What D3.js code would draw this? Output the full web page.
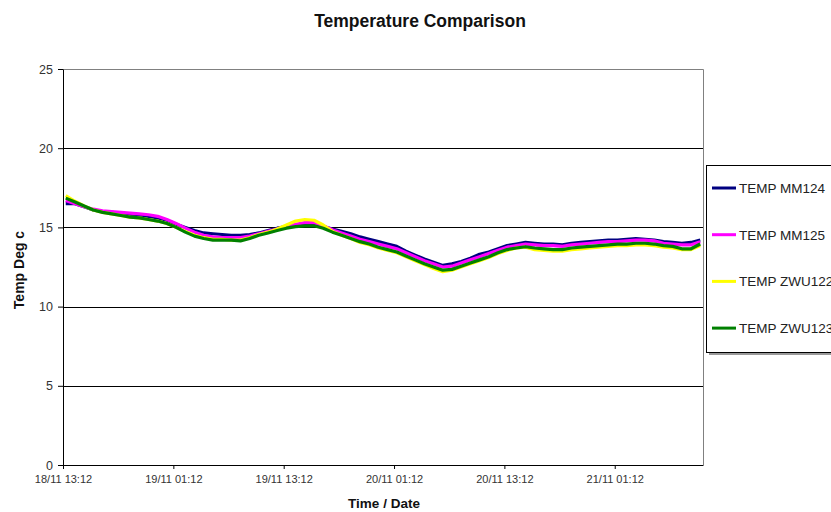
<!DOCTYPE html>
<html>
<head>
<meta charset="utf-8">
<script src="https://cdn.jsdelivr.net/npm/d3@7"></script>
<style>
  body { margin: 0; background: #fff; }
  svg { display: block; font-family: "Liberation Sans", Arial, sans-serif; }
</style>
</head>
<body>
<svg id="chart" width="831" height="512"></svg>
<script>
// readings, one per hour starting 18/11 ~13:30
let seriesNames = ["TEMP MM124", "TEMP MM125", "TEMP ZWU122", "TEMP ZWU123"]
let seriesColors = ["#000080", "#ff00ff", "#ffff00", "#008000"]

let mm124 = [16.5, 16.5, 16.3, 16.1, 16.0, 15.95, 15.9, 15.8, 15.75, 15.7,
    15.6, 15.45, 15.2, 15.0, 14.8, 14.65, 14.6, 14.55, 14.5, 14.5,
    14.55, 14.65, 14.8, 14.95, 15.05, 15.15, 15.2, 15.25, 15.05, 14.9,
    14.75, 14.6, 14.4, 14.25, 14.1, 13.95, 13.8, 13.5, 13.25, 13.0,
    12.8, 12.6, 12.7, 12.85, 13.05, 13.3, 13.45, 13.65, 13.85, 13.95,
    14.05, 14.0, 13.95, 13.95, 13.9, 14.0, 14.05, 14.1, 14.15, 14.2,
    14.2, 14.25, 14.3, 14.25, 14.2, 14.1, 14.05, 14.0, 14.05, 14.2]

let mm125 = [16.7, 16.5, 16.3, 16.15, 16.05, 16.0, 15.95, 15.9, 15.85, 15.8,
    15.7, 15.5, 15.25, 14.95, 14.7, 14.5, 14.4, 14.35, 14.35, 14.35,
    14.45, 14.6, 14.75, 14.9, 15.05, 15.2, 15.3, 15.3, 15.1, 14.85,
    14.65, 14.45, 14.25, 14.1, 13.95, 13.8, 13.65, 13.4, 13.15, 12.9,
    12.7, 12.5, 12.55, 12.75, 12.95, 13.15, 13.35, 13.55, 13.75, 13.85,
    13.95, 13.9, 13.85, 13.85, 13.8, 13.9, 13.95, 14.0, 14.05, 14.1,
    14.1, 14.15, 14.2, 14.2, 14.15, 14.0, 13.95, 13.9, 13.9, 14.1]

let zwu122 = [17.0, 16.65, 16.35, 16.1, 15.95, 15.85, 15.75, 15.65, 15.6, 15.5,
    15.4, 15.25, 15.0, 14.75, 14.5, 14.35, 14.25, 14.25, 14.2, 14.2,
    14.35, 14.55, 14.7, 14.9, 15.15, 15.4, 15.5, 15.45, 15.15, 14.75,
    14.5, 14.3, 14.05, 13.9, 13.7, 13.55, 13.4, 13.15, 12.9, 12.65,
    12.4, 12.2, 12.3, 12.5, 12.7, 12.9, 13.1, 13.35, 13.55, 13.7,
    13.75, 13.6, 13.55, 13.5, 13.5, 13.6, 13.65, 13.7, 13.75, 13.8,
    13.85, 13.85, 13.9, 13.9, 13.85, 13.75, 13.7, 13.6, 13.6, 13.85]

let zwu123 = [16.85, 16.6, 16.35, 16.1, 15.95, 15.85, 15.75, 15.65, 15.6, 15.5,
    15.4, 15.25, 15.0, 14.7, 14.45, 14.3, 14.2, 14.2, 14.2, 14.15,
    14.3, 14.5, 14.65, 14.8, 14.95, 15.05, 15.1, 15.1, 14.95, 14.7,
    14.5, 14.3, 14.1, 13.95, 13.75, 13.6, 13.45, 13.2, 12.95, 12.7,
    12.5, 12.3, 12.35, 12.55, 12.75, 12.95, 13.15, 13.4, 13.6, 13.7,
    13.78, 13.7, 13.65, 13.6, 13.6, 13.7, 13.75, 13.8, 13.85, 13.9,
    13.95, 13.95, 14.0, 14.0, 13.95, 13.85, 13.8, 13.65, 13.65, 13.95]

let xTickHours = [0, 12, 24, 36, 48, 60]
let xTickLabels = ["18/11 13:12", "19/11 01:12", "19/11 13:12", "20/11 01:12", "20/11 13:12", "21/11 01:12"]
let yTicks = [0, 5, 10, 15, 20, 25]

const firstHour = 0.3   // first reading a bit after the first tick

let allSeries = [mm124, mm125, zwu122, zwu123]

var margin = { top: 69, right: 128, bottom: 47, left: 63 }
var W = 831, H = 512
var width = W - margin.left - margin.right
var height = H - margin.top - margin.bottom

var svg = d3.select("#chart")

svg.append("rect").attr("width", W).attr("height", H).attr("fill", "#fff")

var x = d3.scaleLinear().domain([0, 69.6]).range([0, width])
var y = d3.scaleLinear().domain([0, 25]).range([height, 0])

var g = svg.append("g")
    .attr("transform", "translate(" + margin.left + "," + margin.top + ")")

// gridlines
g.selectAll(".grid")
    .data(yTicks.filter(d => d > 0 && d < 25))
    .enter().append("line")
    .attr("x1", 0).attr("x2", width)
    .attr("y1", d => Math.round(y(d)) + 0.5).attr("y2", d => Math.round(y(d)) + 0.5)
    .attr("stroke", "#000").attr("stroke-width", 1)

// plot area border (top + right, grey)
g.append("path")
    .attr("d", "M0," + (Math.round(y(25)) + 0.5) + "H" + (width + 0.5) + "V" + height)
    .attr("fill", "none").attr("stroke", "#808080")

// lines
var line = d3.line()
    .x((d, i) => x(firstHour + i))
    .y(d => y(d))

allSeries.forEach((vals, k) => {
    g.append("path")
        .datum(vals)
        .attr("fill", "none")
        .attr("stroke", seriesColors[k])
        .attr("stroke-width", 3.2)
        .attr("stroke-linejoin", "round")
        .attr("d", line)
})

// y axis
var yAxis = d3.axisLeft(y).tickValues(yTicks).tickSize(5).tickSizeOuter(0)
var ya = g.append("g").call(yAxis)
ya.select(".domain").attr("stroke", "#000")
ya.selectAll(".tick line").attr("stroke", "#000")
ya.selectAll(".tick text")
    .attr("x", -10)
    .attr("font-size", 12.5)
    .attr("font-family", "Liberation Sans, Arial, sans-serif")
    .attr("fill", "#333")

// x axis
var xAxis = d3.axisBottom(x)
    .tickValues(xTickHours)
    .tickFormat((d, i) => xTickLabels[i])
    .tickSize(4).tickSizeOuter(0)
var xa = g.append("g").attr("transform", "translate(0," + height + ")").call(xAxis)
xa.select(".domain").attr("stroke", "#000")
xa.selectAll(".tick line").attr("stroke", "#000")
xa.selectAll(".tick text")
    .attr("y", 10)
    .attr("font-size", 11)
    .attr("font-family", "Liberation Sans, Arial, sans-serif")
    .attr("fill", "#333")

// titles
svg.append("text")
    .attr("x", 420).attr("y", 27)
    .attr("text-anchor", "middle")
    .attr("font-size", 17.5).attr("font-weight", "bold")
    .attr("fill", "#111")
    .text("Temperature Comparison")

svg.append("text")
    .attr("x", 384).attr("y", 508)
    .attr("text-anchor", "middle")
    .attr("font-size", 13.5).attr("font-weight", "bold")
    .attr("fill", "#111")
    .text("Time / Date")

svg.append("text")
    .attr("transform", "translate(24,270) rotate(-90)")
    .attr("text-anchor", "middle")
    .attr("font-size", 14).attr("font-weight", "bold")
    .attr("fill", "#111")
    .text("Temp Deg c")

// legend (runs off the right edge, like the original)
var lg = svg.append("g").attr("transform", "translate(706,165)")
lg.append("rect").attr("x", 3).attr("y", 3).attr("width", 140).attr("height", 187).attr("fill", "#999")
lg.append("rect").attr("x", 0.5).attr("y", 0.5).attr("width", 140).attr("height", 187)
    .attr("fill", "#fff").attr("stroke", "#000")

seriesNames.forEach((name, k) => {
    var cy = 23 + k * 46.7
    lg.append("line")
        .attr("x1", 6).attr("x2", 30)
        .attr("y1", cy).attr("y2", cy)
        .attr("stroke", seriesColors[k]).attr("stroke-width", 3)
    lg.append("text")
        .attr("x", 33).attr("y", cy + 5)
        .attr("font-size", 13.5)
        .attr("fill", "#222")
        .text(name)
})
</script>
</body>
</html>
